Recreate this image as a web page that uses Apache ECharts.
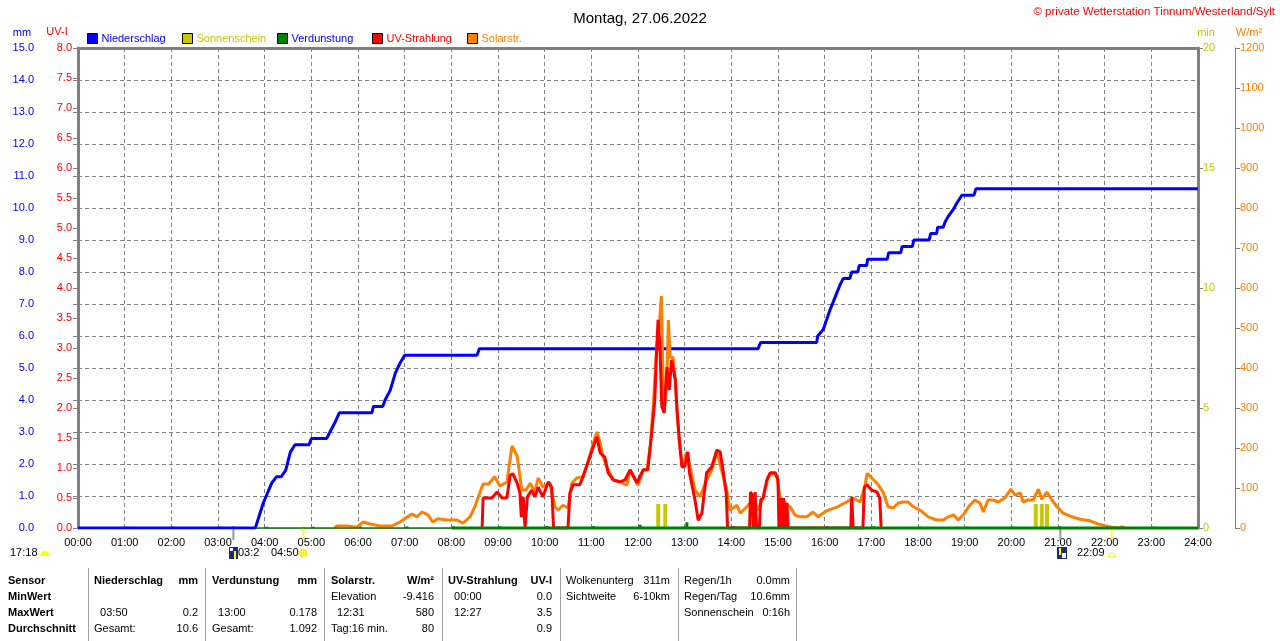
<!DOCTYPE html>
<html>
<head>
<meta charset="utf-8">
<title>Wetterstation Tinnum</title>
<script src="https://cdn.jsdelivr.net/npm/echarts/dist/echarts.min.js"></script>
<style>
  html, body { margin: 0; padding: 0; background: #fff; }
  #main { width: 1280px; height: 641px; }
</style>
</head>
<body>
<div id="main"></div>
<script>
// tick labels of the time axis
var hourLabels = ['00:00','01:00','02:00','03:00','04:00','05:00','06:00','07:00','08:00','09:00','10:00','11:00','12:00',
  '13:00','14:00','15:00','16:00','17:00','18:00','19:00','20:00','21:00','22:00','23:00','24:00']

// Niederschlag (mm, kumuliert) - [stunde, mm]
var rainPoints = [[0,0],[3.8,0],[3.97,0.78],[4.15,1.4],[4.25,1.6],[4.35,1.6],[4.45,1.8],[4.55,2.37],[4.65,2.6],[4.95,2.6],
  [5.0,2.8],[5.33,2.8],[5.4,3.0],[5.5,3.28],[5.6,3.6],[6.3,3.6],[6.33,3.8],[6.53,3.8],[6.58,4.0],[6.69,4.3],
  [6.8,4.84],[6.9,5.15],[7.0,5.4],[8.55,5.4],[8.6,5.6],[14.57,5.6],[14.63,5.8],[15.83,5.8],[15.85,6.0],[15.97,6.2],
  [16.11,6.8],[16.22,7.2],[16.33,7.6],[16.4,7.8],[16.54,7.8],[16.58,8.0],[16.71,8.0],[16.74,8.2],[16.9,8.2],[16.92,8.4],
  [17.34,8.4],[17.37,8.6],[17.63,8.6],[17.66,8.8],[17.88,8.8],[17.91,9.0],[18.24,9.0],[18.27,9.2],[18.4,9.2],[18.42,9.4],
  [18.54,9.4],[18.58,9.56],[18.64,9.72],[18.75,9.94],[18.83,10.15],[18.94,10.4],[19.2,10.4],[19.24,10.6],[24,10.6]]

// Solarstrahlung (W/m2)
var solarPoints = [[5.5,0],[5.55,5],[5.76,5],[5.98,2],[6.11,15],[6.26,10],[6.47,5],[6.73,5],[6.9,15],[7.15,35],[7.26,28],
  [7.37,40],[7.5,33],[7.6,15],[7.71,23],[7.9,20],[8.12,20],[8.25,12],[8.4,28],[8.5,52],[8.58,78],[8.68,110],[8.8,110],
  [8.93,128],[9.04,105],[9.19,115],[9.3,205],[9.41,180],[9.51,95],[9.6,95],[9.69,112],[9.79,90],[9.86,125],[9.96,103],
  [10.11,112],[10.22,53],[10.29,45],[10.39,57],[10.5,50],[10.58,112],[10.69,125],[10.82,128],[10.93,165],[11.04,212],
  [11.12,240],[11.19,212],[11.25,178],[11.33,153],[11.47,120],[11.61,115],[11.76,107],[11.83,145],[11.94,120],[12.0,107],
  [12.11,145],[12.19,145],[12.26,203],[12.33,312],[12.4,453],[12.46,512],[12.5,580],[12.53,412],[12.56,287],[12.62,370],
  [12.65,520],[12.69,427],[12.75,427],[12.8,370],[12.84,287],[12.88,220],[12.94,165],[12.97,153],[13.04,190],[13.1,162],
  [13.22,95],[13.33,78],[13.47,120],[13.58,145],[13.69,190],[13.8,140],[13.9,95],[13.97,45],[14.04,50],[14.12,57],
  [14.19,37],[14.33,53],[14.47,70],[14.57,45],[14.68,75],[14.79,128],[14.9,137],[14.98,128],[15.04,78],[15.15,62],
  [15.26,53],[15.36,33],[15.47,28],[15.62,28],[15.75,40],[15.86,28],[16.04,43],[16.26,52],[16.47,65],[16.61,75],
  [16.76,65],[16.86,103],[16.91,137],[17.01,125],[17.12,112],[17.25,90],[17.36,53],[17.47,50],[17.57,62],[17.68,65],
  [17.79,65],[17.9,53],[18.04,45],[18.22,28],[18.4,20],[18.54,20],[18.65,28],[18.76,33],[18.86,20],[18.97,33],
  [19.11,57],[19.22,70],[19.33,62],[19.4,40],[19.5,70],[19.61,70],[19.72,65],[19.86,75],[19.99,97],[20.08,82],
  [20.19,88],[20.25,65],[20.36,70],[20.47,70],[20.58,97],[20.65,72],[20.76,90],[20.87,70],[20.98,53],[21.11,37],
  [21.3,28],[21.47,22],[21.69,18],[21.86,10],[22.0,6],[22.15,2],[22.3,0],[22.36,3],[22.45,0]]

// UV-Index
var uvPoints = [[8.66,0],[8.68,0.5],[8.87,0.5],[8.98,0.6],[9.09,0.5],[9.19,0.5],[9.26,0.88],[9.32,0.9],[9.41,0.75],
  [9.47,0.58],[9.5,0.18],[9.54,0.52],[9.58,0],[9.61,0],[9.63,0.52],[9.72,0.63],[9.79,0.52],[9.86,0.68],[9.96,0.52],
  [10.08,0.77],[10.15,0.68],[10.19,0],[10.5,0],[10.54,0.58],[10.61,0.72],[10.75,0.72],[10.82,0.85],[10.93,1.1],
  [11.04,1.35],[11.12,1.52],[11.19,1.25],[11.29,1.18],[11.36,0.92],[11.47,0.8],[11.61,0.77],[11.72,0.8],[11.83,0.97],
  [11.98,0.75],[12.11,0.97],[12.21,0.97],[12.3,1.63],[12.36,2.13],[12.4,2.97],[12.43,3.47],[12.47,3.02],[12.51,2.02],
  [12.56,1.92],[12.62,2.68],[12.67,2.3],[12.72,2.8],[12.8,2.47],[12.84,1.92],[12.9,1.35],[12.94,1.02],[13.0,1.02],
  [13.07,1.27],[13.1,0.93],[13.22,0.47],[13.29,0.13],[13.37,0.25],[13.47,0.92],[13.58,1.02],[13.69,1.3],[13.76,1.27],
  [13.83,0.92],[13.89,0.58],[13.92,0],[14.39,0],[14.41,0.6],[14.45,0.55],[14.47,0],[14.49,0],[14.51,0.6],[14.54,0],
  [14.6,0],[14.63,0.47],[14.68,0.5],[14.76,0.8],[14.83,0.92],[14.94,0.92],[15.0,0.8],[15.02,0],[15.06,0.5],[15.08,0],
  [15.12,0.5],[15.15,0],[15.19,0.42],[15.22,0],[16.56,0],[16.58,0.52],[16.61,0],[16.82,0],[16.85,0.68],[16.91,0.72],
  [17.01,0.63],[17.12,0.6],[17.18,0.5],[17.21,0]]

// Sonnenschein (min)
var sunPoints = [[12.47,1],[12.62,1],[20.56,1],[20.69,1],[20.8,1]]

// Verdunstung (mm pro Stunde)
var evapPoints = [[1,0.04],[2,0.04],[3,0.04],[4,0.04],[5,0.04],[6,0.05],[7,0.05],[8,0.05],[9,0.05],[10,0.06],[11,0.06],
  [12,0.1],[13,0.178],[14,0.06],[15,0.05],[16,0.05],[17,0.05],[18,0.04],[19,0.04],[20,0.04],[21,0.04],[22,0.04],[23,0.04]]

// Daemmerung / Sonnenauf- und -untergang (stunde)
var sunEvents = [3.33, 4.83, 21.05, 22.15]
var sunEventColors = ['#808080', '#ffff00', '#808080', '#ffff00']

// Tabelle unten
var tableRows = [
  ['Sensor','Niederschlag','mm','Verdunstung','mm','Solarstr.','W/m²','UV-Strahlung','UV-I','Wolkenunterg','311m','Regen/1h','0.0mm'],
  ['MinWert','','','','','Elevation','-9.416','  00:00','0.0','Sichtweite','6-10km','Regen/Tag','10.6mm'],
  ['MaxWert','  03:50','0.2','  13:00','0.178','  12:31','580','  12:27','3.5','','','Sonnenschein','0:16h'],
  ['Durchschnitt','Gesamt:','10.6','Gesamt:','1.092','Tag:16 min.','80','','0.9','','','','']
]

var legendNames = ['Niederschlag','Sonnenschein','Verdunstung','UV-Strahlung','Solarstr.']

var FONT = '"Liberation Sans", Arial, sans-serif'
var GRAY = '#808080'
var BLUE = '#0000ff', RED = '#ff0000', ORANGE = '#ff8000', OLIVE = '#c8c800', GREEN = '#008000'

var legendBoxColors = [BLUE, OLIVE, GREEN, RED, ORANGE]
var legendTextColors = [BLUE, OLIVE, BLUE, RED, ORANGE]
var legendLeft = [87, 182, 277, 372, 467]

var colX = [8,94,198,212,317,331,434,448,552,566,670,684,790]
var colAlign = ['left','left','right','left','right','left','right','left','right','left','right','left','right']
var rowY = [581,597,613,629]
var sepX = [88,205,324,442,560,678,796]

function txt(text, x, y, color, opts) {
  opts = opts || {}
  return {
    type: 'text', silent: true,
    style: {
      text: text, x: x, y: y, fill: color,
      fontSize: opts.size || 11, fontFamily: FONT, fontWeight: opts.bold ? 'bold' : 'normal',
      align: opts.align || 'left', verticalAlign: 'middle'
    }
  }
}

var graphics = []
// achsen-namen
graphics.push(txt('mm', 22, 33, BLUE, {align: 'center'}))
graphics.push(txt('UV-I', 57, 32, RED, {align: 'center'}))
graphics.push(txt('min', 1206, 33, OLIVE, {align: 'center'}))
graphics.push(txt('W/m²', 1249, 33, ORANGE, {align: 'center'}))
graphics.push(txt('© private Wetterstation Tinnum/Westerland/Sylt', 1275, 12, RED, {align: 'right', size: 11.5}))

// zeile mit sonnen/mond zeiten
graphics.push(txt('17:18', 10, 553, '#000'))
graphics.push({type: 'sector', silent: true, shape: {cx: 45, cy: 556, r: 5, startAngle: Math.PI, endAngle: 2 * Math.PI}, style: {fill: '#ffff00'}})
graphics.push({type: 'rect', silent: true, shape: {x: 229, y: 547, width: 9, height: 12}, style: {fill: '#1c2a80'}})
graphics.push({type: 'rect', silent: true, shape: {x: 230, y: 548, width: 3, height: 3}, style: {fill: '#ffffff'}})
graphics.push({type: 'rect', silent: true, shape: {x: 234, y: 551, width: 2, height: 8}, style: {fill: '#ffff00'}})
graphics.push(txt('03:2', 238, 553, '#000'))
graphics.push(txt('04:50', 271, 553, '#000'))
graphics.push({type: 'circle', silent: true, shape: {cx: 303, cy: 553, r: 3.5}, style: {fill: '#ffff00', stroke: '#ffe060', lineWidth: 2}})
graphics.push({type: 'rect', silent: true, shape: {x: 1057, y: 547, width: 10, height: 12}, style: {fill: '#1c2a80'}})
graphics.push({type: 'rect', silent: true, shape: {x: 1059, y: 548, width: 2, height: 7}, style: {fill: '#ffff00'}})
graphics.push({type: 'rect', silent: true, shape: {x: 1062, y: 553, width: 4, height: 5}, style: {fill: '#ffffff'}})
graphics.push(txt('22:09', 1077, 553, '#000'))
graphics.push({type: 'sector', silent: true, shape: {cx: 1112, cy: 557, r: 4, startAngle: Math.PI, endAngle: 2 * Math.PI}, style: {fill: 'none', stroke: '#ffff00', lineWidth: 1}})

// tabelle
for (var s = 0; s < sepX.length; s++) {
  graphics.push({type: 'line', silent: true, shape: {x1: sepX[s] + 0.5, y1: 568, x2: sepX[s] + 0.5, y2: 641}, style: {stroke: '#a0a0a0', lineWidth: 1}})
}
for (var r = 0; r < tableRows.length; r++) {
  for (var c = 0; c < tableRows[r].length; c++) {
    if (!tableRows[r][c]) continue
    var bold = (c === 0) || (r === 0 && c <= 8)
    graphics.push(txt(tableRows[r][c], colX[c], rowY[r], '#000', {align: colAlign[c], bold: bold}))
  }
}

var legends = []
for (var i = 0; i < legendNames.length; i++) {
  legends.push({
    data: [{name: legendNames[i], icon: 'rect', itemStyle: {color: legendBoxColors[i], borderColor: '#000', borderWidth: 1}}],
    left: legendLeft[i], top: 33, padding: 0, itemWidth: 10, itemHeight: 10, itemGap: 4,
    selectedMode: false,
    textStyle: {color: legendTextColors[i], fontSize: 11, fontFamily: FONT, padding: [0, 0, 0, -1]}
  })
}

function yAxis(opt) {
  return {
    type: 'value', position: opt.position, offset: opt.offset || 0,
    min: opt.min, max: opt.max, interval: opt.interval,
    axisLine: {show: true, lineStyle: {color: GRAY, width: opt.lineWidth}},
    axisTick: {show: true, length: 5, lineStyle: {color: GRAY}},
    axisLabel: {
      color: opt.color, fontSize: 11, fontFamily: FONT, margin: opt.margin,
      formatter: opt.formatter
    },
    splitLine: opt.split ? {show: true, lineStyle: {color: GRAY, type: [4, 3], width: 1}} : {show: false}
  }
}

var myChart = echarts.init(document.getElementById('main'), null, {renderer: 'canvas'})
var option = {
  animation: false,
  backgroundColor: '#fff',
  title: {
    text: 'Montag, 27.06.2022', left: 'center', top: 6,
    textStyle: {fontSize: 15, fontWeight: 'normal', color: '#000', fontFamily: FONT}
  },
  legend: legends,
  grid: {left: 78, right: 82, top: 48, bottom: 113, containLabel: false},
  xAxis: [
    {
      type: 'value', min: 0, max: 24, interval: 1, position: 'bottom',
      axisLine: {show: true, onZero: false, lineStyle: {color: GRAY, width: 1}},
      axisTick: {show: false},
      axisLabel: {
        color: '#000', fontSize: 11, fontFamily: FONT, margin: 9,
        formatter: function(v) { return hourLabels[Math.round(v)] }
      },
      splitLine: {show: true, lineStyle: {color: GRAY, type: [4, 3], width: 1}}
    },
    {
      type: 'value', min: 0, max: 24, position: 'top',
      axisLine: {show: true, onZero: false, lineStyle: {color: GRAY, width: 3}},
      axisTick: {show: false}, axisLabel: {show: false}, splitLine: {show: false}
    }
  ],
  yAxis: [
    yAxis({position: 'left', offset: 38, min: 0, max: 15, interval: 1, lineWidth: 1, color: BLUE, margin: 6, split: true,
      formatter: function(v) { return v.toFixed(1) }}),
    yAxis({position: 'left', min: 0, max: 8, interval: 0.5, lineWidth: 3, color: RED, margin: 6,
      formatter: function(v) { return v.toFixed(1) }}),
    yAxis({position: 'right', min: 0, max: 20, interval: 5, lineWidth: 3, color: OLIVE, margin: 5,
      formatter: function(v) { return String(v) }}),
    yAxis({position: 'right', offset: 37, min: 0, max: 1200, interval: 100, lineWidth: 1, color: ORANGE, margin: 5,
      formatter: function(v) { return String(v) }})
  ],
  series: [
    {
      name: 'Sonnenschein', type: 'bar', xAxisIndex: 0, yAxisIndex: 2,
      data: sunPoints, barWidth: 4, itemStyle: {color: OLIVE}
    },
    {
      name: 'Niederschlag', type: 'line', xAxisIndex: 0, yAxisIndex: 0,
      data: rainPoints, showSymbol: false, color: BLUE,
      lineStyle: {color: BLUE, width: 3}
    },
    {
      name: 'Solarstr.', type: 'line', xAxisIndex: 0, yAxisIndex: 3,
      data: solarPoints, showSymbol: false, color: ORANGE,
      lineStyle: {color: ORANGE, width: 3}
    },
    {
      name: 'UV-Strahlung', type: 'line', xAxisIndex: 0, yAxisIndex: 1,
      data: uvPoints, showSymbol: false, color: RED,
      lineStyle: {color: RED, width: 3}
    },
    {
      name: 'Verdunstung', type: 'line', xAxisIndex: 0, yAxisIndex: 0,
      data: [[3.8, 0], [8, 0]], showSymbol: false, color: GREEN,
      lineStyle: {color: GREEN, width: 1.5}
    },
    {
      name: 'Verdunstung', type: 'line', xAxisIndex: 0, yAxisIndex: 0,
      data: [[8, 0], [24, 0]], showSymbol: false, color: GREEN, clip: false,
      lineStyle: {color: GREEN, width: 3}
    },
    {
      name: 'Verdunstung', type: 'bar', xAxisIndex: 0, yAxisIndex: 0,
      data: evapPoints, barWidth: 3, itemStyle: {color: GREEN}
    },
    {
      name: 'sunEvents', type: 'scatter', xAxisIndex: 0, yAxisIndex: 0, clip: false,
      symbol: 'rect', symbolSize: [2, 14], symbolOffset: [0, 5],
      data: sunEvents.map(function(h, k) { return {value: [h, 0], itemStyle: {color: sunEventColors[k]}} })
    }
  ],
  graphic: graphics
}
myChart.setOption(option)
</script>
</body>
</html>
